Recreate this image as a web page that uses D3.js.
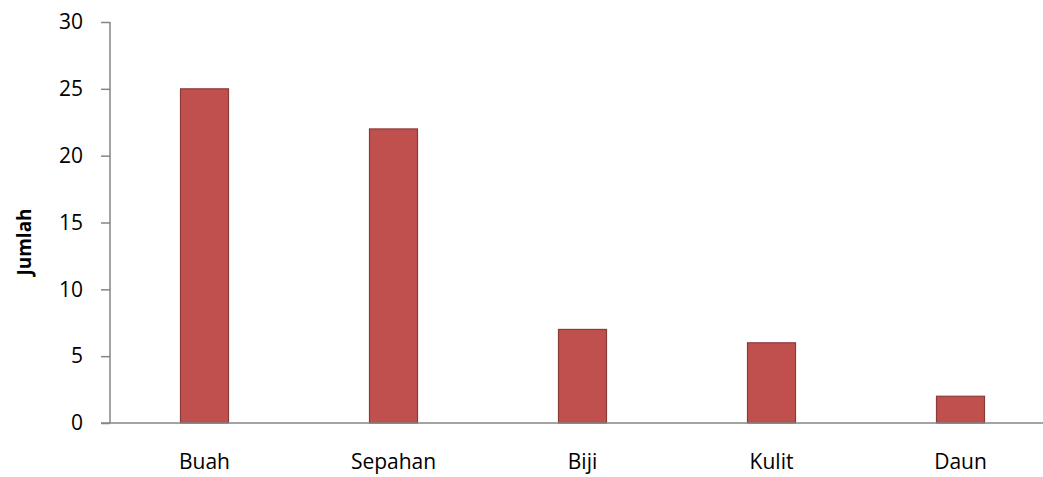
<!DOCTYPE html>
<html>
<head>
<meta charset="utf-8">
<script src="https://cdn.jsdelivr.net/npm/d3@7"></script>
<style>
  body { margin: 0; background: #fff; }
  svg text { font-family: "Open Sans", sans-serif; fill: #000; }
</style>
</head>
<body>
<div id="chart"></div>
<script>
// chart data
var categories = ["Buah", "Sepahan", "Biji", "Kulit", "Daun"];
var values = [25, 22, 7, 6, 2];
var yTicks = [0, 5, 10, 15, 20, 25, 30];
var yTitle = "Jumlah";

var w = 1043, h = 477;
var plotLeft = 110, plotTop = 22, plotBottom = 423;
var step = 189; // plot runs past the right edge, as in the picture

var svg = d3.select("#chart")
    .append("svg")
    .attr("width", w)
    .attr("height", h);

var x = d3.scaleBand()
    .domain(categories)
    .range([plotLeft, plotLeft + step * categories.length])
    .padding(0);

var y = d3.scaleLinear()
    .domain([0, 30])
    .range([plotBottom, plotTop]);

var barW = 48;
var axisColor = "#868686";

// bars
svg.selectAll(".bar")
    .data(values)
    .enter()
    .append("rect")
    .attr("class", "bar")
    .attr("x", function(d, i) { return x(categories[i]) + x.bandwidth() / 2 - barW / 2; })
    .attr("y", function(d) { return y(d); })
    .attr("width", barW)
    .attr("height", function(d) { return y(0) - y(d); })
    .attr("fill", "#C0504D")
    .attr("stroke", "#8C3A38")
    .attr("stroke-width", 1.2);

// y axis
var yAxis = d3.axisLeft(y)
    .tickValues(yTicks)
    .tickSize(9)
    .tickPadding(18);

var gy = svg.append("g")
    .attr("transform", "translate(" + plotLeft + ",0)")
    .call(yAxis);
gy.select(".domain").attr("stroke", axisColor).attr("stroke-width", 1.5)
    .attr("d", "M0," + plotTop + "V" + plotBottom);
gy.selectAll(".tick line").attr("stroke", axisColor).attr("stroke-width", 1.5);
gy.selectAll(".tick text")
    .attr("font-size", "21px")
    .attr("font-family", "Open Sans, sans-serif")
    .attr("fill", "#000");

// x axis, no tick marks
var xAxis = d3.axisBottom(x).tickSize(0).tickPadding(31);
var gx = svg.append("g")
    .attr("transform", "translate(0," + plotBottom + ")")
    .call(xAxis);
gx.select(".domain").attr("stroke", axisColor).attr("stroke-width", 1.5)
    .attr("d", "M" + (plotLeft - 9) + ",0H" + w);
gx.selectAll(".tick text")
    .attr("font-size", "21px")
    .attr("font-family", "Open Sans, sans-serif")
    .attr("fill", "#000");

// y title
svg.append("text")
    .attr("transform", "translate(31,242) rotate(-90)")
    .attr("text-anchor", "middle")
    .attr("font-size", "19px")
    .attr("font-weight", "bold")
    .text(yTitle);
</script>
</body>
</html>
